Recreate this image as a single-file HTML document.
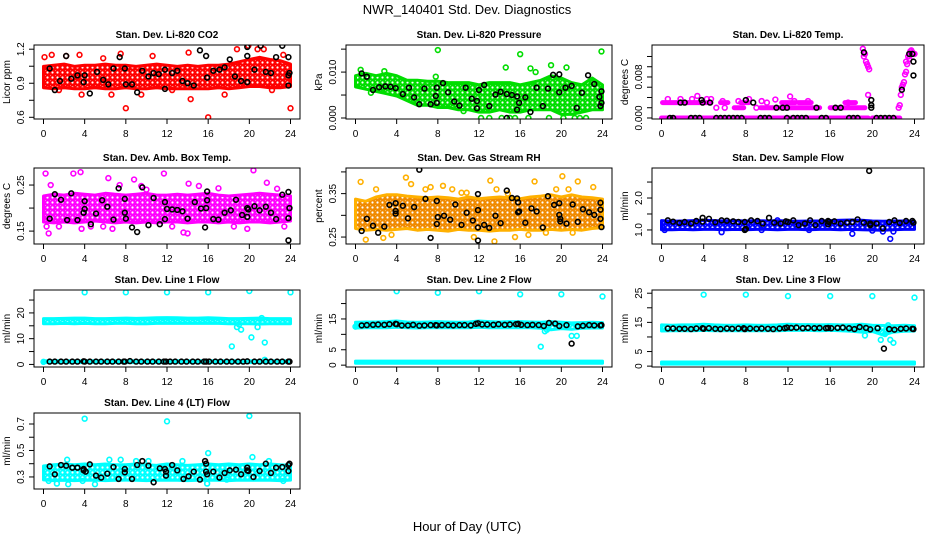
<!DOCTYPE html>
<html><head><meta charset="utf-8"><style>
html,body{margin:0;padding:0;background:#fff;}
svg{display:block;font-family:"Liberation Sans",sans-serif;}
</style></head><body>
<svg id="chart" width="936" height="540" viewBox="0 0 936 540" xmlns="http://www.w3.org/2000/svg">
<defs id="defs"></defs>
<rect x="0" y="0" width="936" height="540" fill="#fff"/>
<text x="467" y="14" text-anchor="middle" font-size="13">NWR_140401  Std. Dev. Diagnostics</text>
<text x="467" y="531" text-anchor="middle" font-size="13">Hour of Day (UTC)</text>
</svg>
<script>
// ---------- DATA ----------
const hours=[0,1,2,3,4,5,6,7,8,9,10,11,12,13,14,15,16,17,18,19,20,21,22,23,24];
const xTicks=[0,4,8,12,16,20,24];
const xTickLabels=['0','4','8','12','16','20','24'];

// P1 CO2
const co2BandLo=[0.87,0.86,0.87,0.86,0.86,0.87,0.86,0.86,0.87,0.86,0.86,0.87,0.86,0.86,0.86,0.86,0.86,0.87,0.86,0.87,0.88,0.88,0.87,0.87,0.88];
const co2BandHi=[1.04,1.05,1.06,1.04,1.05,1.05,1.06,1.05,1.05,1.04,1.05,1.06,1.05,1.04,1.05,1.04,1.05,1.05,1.06,1.08,1.10,1.12,1.10,1.09,1.06];
const co2RedX=[0.1,0.8,2.2,3.5,3.7,5.8,6.6,7.5,8.0,9.5,10.6,14.1,14.3,16.0,17.6,18.8,19.9,21.4,23.3,24.0,22.2,12.5,1.5,20.8];
const co2RedY=[1.13,1.15,1.14,1.15,0.80,1.12,0.80,1.16,0.68,0.80,1.14,1.17,0.76,0.60,0.80,1.20,1.23,1.20,1.15,0.68,0.84,0.84,0.84,1.20];
const co2BlkX=[0.6,1.1,1.6,2.2,2.7,3.3,3.9,4.0,4.5,5.2,5.8,6.3,6.8,7.4,7.9,8.0,8.6,9.1,9.6,10.2,10.7,11.2,11.8,11.8,12.5,13.0,13.5,14.0,14.6,15.2,15.8,15.9,16.5,17.1,17.6,18.1,18.6,19.2,19.8,19.8,19.8,20.5,21.1,21.6,22.1,22.6,23.2,23.8,23.8,23.8,23.9];
const co2BlkY=[1.03,0.84,0.92,1.14,0.94,0.97,0.91,0.97,0.81,1.00,0.93,0.89,1.03,1.13,1.03,0.89,0.89,0.82,1.01,0.96,0.99,0.98,1.02,0.85,0.99,1.01,0.92,0.90,0.88,1.19,1.14,0.95,1.01,1.02,1.04,1.11,0.96,0.92,1.22,1.14,0.91,1.02,1.23,1.00,0.99,1.13,1.23,1.13,0.97,0.88,0.99];

// P2 Pressure
const prsBandLo=[0.0070,0.0065,0.0060,0.0055,0.0050,0.0040,0.0030,0.0030,0.0025,0.0025,0.0020,0.0020,0.0015,0.0015,0.0020,0.0015,0.0015,0.0020,0.0020,0.0020,0.0010,0.0010,0.0015,0.0020,0.0020];
const prsBandHi=[0.0090,0.0095,0.0090,0.0095,0.0090,0.0080,0.0080,0.0078,0.0078,0.0075,0.0075,0.0075,0.0070,0.0075,0.0075,0.0075,0.0070,0.0075,0.0080,0.0090,0.0085,0.0075,0.0070,0.0085,0.0070];
const prsGrnX=[0.5,8.0,14.6,16.0,17.0,19.0,20.5,23.9,12.2,13.0,14.2,15.0,15.5,16.8,18.8,20.2,21.3,21.8,22.4,1.5,2.8,17.5,7.8,10.5];
const prsGrnY=[0.0105,0.0148,0.0110,0.0139,0.0108,0.0115,0.0110,0.0145,0,0,0,0,0,0,0,0,0,0,0,0.0055,0.0102,0.0100,0.0090,0.0015];
const prsBlkX=[0.6,1.1,1.7,2.3,2.9,3.4,3.9,4.6,5.2,5.7,6.2,6.7,7.3,7.8,7.9,7.9,8.5,9.0,9.6,10.1,10.7,11.3,11.8,11.8,12.0,12.5,13.0,13.6,14.1,14.7,14.7,15.2,15.7,15.7,15.9,16.5,17.0,17.6,18.2,18.7,19.2,19.8,19.8,20.4,21.0,21.5,22.0,22.6,23.2,23.7,23.8,23.9,23.9];
const prsBlkY=[0.0097,0.0090,0.0061,0.0067,0.0069,0.0068,0.0065,0.0052,0.0066,0.0045,0.0030,0.0064,0.0030,0.0048,0.0066,0.0033,0.0076,0.0056,0.0036,0.0027,0.0066,0.0042,0.0037,0.0021,0.0061,0.0072,0.0026,0.0051,0.0057,0,0.0052,0.0050,0.0047,0.0018,0.0033,0.0045,0.0013,0.0066,0.0026,0.0064,0.0094,0.0095,0.0056,0.0066,0.0070,0.0022,0.0055,0.0093,0.0074,0.0046,0.0026,0.0058,0.0033];

// P3 Li-820 Temp (runs = [start hour, end hour] at constant level)
const tmpRunLevels=[0,0,0.003,0.003,0.003,0.003,0.003,0.003,0.002,0.002,0.002];
const tmpRunStart=[0,20.0,0.1,5.6,7.5,11.4,13.0,17.4,6.9,9.4,16.0];
const tmpRunEnd=[19.6,22.6,4.7,6.3,8.3,12.7,14.2,18.4,7.8,15.0,19.3];
const tmpMagX=[0.6,1.8,2.9,3.4,4.3,4.7,5.8,7.3,8.3,9.5,10.8,12.2,12.6,13.9,17.7,19.1,19.2,19.3,19.4,19.5,19.6,19.7,19.6,22.5,22.6,22.7,22.8,22.9,23.0,23.1,23.2,23.3,23.4,23.5,23.6,23.7,23.8,23.9,24.0,23.2,23.5,5.2,6.0,9.0,10.0];
const tmpMagY=[0.0037,0.0037,0.0037,0.0043,0.0037,0.0037,0.0033,0.0033,0.0037,0.0033,0.0036,0.0042,0.0033,0.0033,0.0030,0.0135,0.0120,0.0125,0.0110,0.0105,0.0100,0.0095,0.0045,0.0020,0.0025,0.0045,0.0060,0.0065,0.0070,0.0085,0.0090,0.0105,0.0120,0.0125,0.0130,0.0132,0.0128,0.0125,0.0125,0.0110,0.0115,0.0020,0.0020,0.0020,0.0030];
const tmpBlkX=[0.8,1.1,2.8,3.2,3.6,5.2,5.6,6.0,6.4,6.8,7.2,7.6,9.4,9.8,10.2,11.9,12.5,12.9,13.3,13.7,15.2,15.6,17.8,18.2,18.6,20.4,20.8,21.2,21.6,22.0,1.8,2.2,3.8,3.9,4.6,8.0,8.7,10.9,11.5,11.9,14.7,16.5,17.0,19.2,19.9,19.9,19.9,22.8,23.5,23.8,23.9,23.9];
const tmpBlkY=[0,0,0,0,0,0,0,0,0,0,0,0,0,0,0,0,0,0,0,0,0,0,0,0,0,0,0,0,0,0,0.003,0.003,0.0035,0.003,0.003,0.0035,0.003,0.002,0.002,0.002,0.002,0.002,0.002,0.0128,0.0035,0.0025,0.002,0.0055,0.0125,0.0125,0.0110,0.0083];

// P4 Amb Box Temp
const boxBandLo=[0.172,0.170,0.172,0.170,0.172,0.174,0.172,0.170,0.172,0.170,0.172,0.170,0.172,0.172,0.170,0.172,0.172,0.170,0.172,0.170,0.172,0.172,0.170,0.172,0.174];
const boxBandHi=[0.224,0.228,0.226,0.230,0.228,0.226,0.230,0.228,0.226,0.228,0.230,0.226,0.226,0.228,0.226,0.228,0.230,0.226,0.224,0.226,0.228,0.230,0.228,0.226,0.224];
const boxMagX=[0.2,0.3,0.5,2.9,3.6,3.7,4.6,6.3,6.7,7.4,8.8,9.5,11.7,13.6,14.0,14.1,15.1,17.0,19.8,20.4,21.7,23.4,22.7,1.5,5.8,0.7,10.0,12.5,18.5];
const boxMagY=[0.275,0.160,0.145,0.275,0.278,0.155,0.160,0.265,0.155,0.250,0.262,0.248,0.275,0.147,0.145,0.253,0.248,0.243,0.155,0.282,0.255,0.160,0.242,0.160,0.160,0.250,0.240,0.160,0.160];
const boxBlkX=[0.6,1.1,1.7,2.3,2.7,3.3,3.9,4.0,4.0,4.6,5.1,5.7,6.2,6.8,7.3,7.9,7.9,8.0,8.6,9.1,9.6,10.2,10.7,11.3,11.8,11.8,12.0,12.5,13.0,13.5,14.0,14.7,15.3,15.7,15.8,15.9,15.9,16.5,17.0,17.6,18.2,18.7,19.3,19.8,19.8,19.9,20.5,21.0,21.6,22.1,22.6,23.2,23.8,23.8,23.9,23.8];
const boxBlkY=[0.177,0.230,0.218,0.174,0.232,0.174,0.190,0.198,0.215,0.165,0.188,0.217,0.203,0.175,0.243,0.190,0.220,0.177,0.158,0.148,0.245,0.163,0.222,0.165,0.213,0.176,0.198,0.197,0.196,0.193,0.177,0.213,0.199,0.158,0.200,0.217,0.236,0.176,0.175,0.190,0.195,0.218,0.185,0.200,0.181,0.197,0.204,0.195,0.203,0.190,0.176,0.229,0.235,0.178,0.200,0.130];

// P5 Gas Stream RH
const rhBandLo=[0.272,0.268,0.270,0.268,0.270,0.272,0.268,0.270,0.268,0.266,0.270,0.268,0.268,0.266,0.268,0.268,0.270,0.268,0.268,0.270,0.268,0.270,0.268,0.272,0.274];
const rhBandHi=[0.335,0.330,0.340,0.345,0.345,0.342,0.340,0.338,0.340,0.338,0.335,0.340,0.336,0.338,0.340,0.338,0.336,0.340,0.342,0.345,0.340,0.345,0.340,0.338,0.335];
const rhOrgX=[0.5,1.0,2.0,2.7,4.9,5.4,6.8,7.3,8.5,9.4,10.3,10.8,11.5,13.1,13.7,13.5,14.8,15.5,17.4,18.5,19.5,20.1,20.7,21.6,23.1,21.1,3.5,16.8];
const rhOrgY=[0.377,0.244,0.360,0.248,0.387,0.372,0.360,0.365,0.368,0.360,0.352,0.352,0.250,0.380,0.360,0.240,0.350,0.250,0.378,0.260,0.360,0.390,0.360,0.378,0.365,0.260,0.255,0.255];
const rhBlkX=[0.6,1.1,1.7,2.2,2.8,3.3,3.9,3.9,3.9,4.6,5.1,5.7,6.2,6.8,7.3,7.9,7.9,8.0,8.6,9.2,9.7,10.3,10.8,11.4,11.9,11.9,11.9,11.9,12.5,13.0,13.6,14.1,14.7,15.2,15.7,15.8,15.8,15.9,16.5,17.1,17.6,18.2,18.7,19.3,19.8,19.8,19.9,19.9,20.5,21.1,21.6,22.1,22.7,23.2,23.8,23.8,23.8,23.9];
const rhBlkY=[0.264,0.292,0.276,0.260,0.274,0.324,0.328,0.310,0.304,0.322,0.293,0.319,0.405,0.338,0.248,0.333,0.280,0.296,0.299,0.290,0.325,0.278,0.306,0.288,0.349,0.312,0.272,0.242,0.278,0.271,0.299,0.282,0.357,0.340,0.339,0.330,0.307,0.309,0.283,0.316,0.309,0.272,0.344,0.324,0.328,0.301,0.292,0.286,0.281,0.325,0.285,0.314,0.307,0.301,0.329,0.313,0.292,0.273];

// P6 Sample Flow
const sfBandLo=[1.04,1.04,1.05,1.04,1.05,1.05,1.04,1.05,1.04,1.05,1.05,1.04,1.05,1.05,1.04,1.05,1.05,1.04,1.05,1.04,1.03,1.02,1.04,1.05,1.05];
const sfBandHi=[1.26,1.24,1.25,1.26,1.27,1.26,1.25,1.26,1.25,1.26,1.25,1.26,1.25,1.24,1.25,1.25,1.26,1.27,1.28,1.27,1.25,1.24,1.25,1.25,1.24];
const sfBluX=[5.7,18.1,21.7,20.0,21.0,0.3,11.0,22.0,9.5,14.0];
const sfBluY=[0.93,0.88,0.72,0.98,0.95,1.00,1.30,0.95,1.00,1.00];
const sfBlkX=[0.6,1.1,1.7,2.2,2.8,3.3,3.9,3.9,4.5,5.1,5.7,6.2,6.8,7.3,7.9,7.9,8.0,8.5,9.1,9.6,10.2,10.7,11.3,11.8,12.0,12.5,13.0,13.6,14.1,14.6,15.2,15.8,15.8,15.9,16.4,17.0,17.6,18.1,18.6,19.2,19.7,19.8,19.8,20.4,21.0,21.6,22.1,22.6,23.2,23.8,23.9];
const sfBlkY=[1.30,1.26,1.22,1.25,1.20,1.28,1.38,1.26,1.35,1.24,1.30,1.29,1.27,1.25,1.25,1.00,1.03,1.30,1.28,1.20,1.38,1.23,1.20,1.27,1.25,1.30,1.15,1.20,1.30,1.15,1.28,1.28,1.18,1.25,1.27,1.20,1.23,1.25,1.33,1.23,2.85,1.20,1.15,1.20,1.05,1.25,1.30,1.22,1.28,1.28,1.23];

// P7 Line 1 Flow
const l1BandLo=[16.2,16.2,16.3,16.2,16.3,16.2,16.2,16.3,16.3,16.2,16.2,16.3,16.4,16.3,16.3,16.3,16.4,16.3,16.2,16.2,16.2,16.1,16.2,16.2,16.2];
const l1BandHi=[17.4,17.4,17.5,17.6,17.6,17.4,17.4,17.5,17.6,17.5,17.6,17.7,17.8,17.7,17.6,17.6,17.7,17.6,17.4,17.4,17.5,17.6,17.4,17.4,17.4];
const l1LowLo=[0.7,0.7,0.7,0.7,0.7,0.7,0.7,0.7,0.7,0.7,0.7,0.7,0.7,0.7,0.7,0.7,0.7,0.7,0.7,0.7,0.7,0.7,0.7,0.7,0.7];
const l1LowHi=[1.4,1.4,1.4,1.4,1.4,1.4,1.4,1.4,1.4,1.4,1.4,1.4,1.4,1.4,1.4,1.4,1.4,1.4,1.4,1.4,1.4,1.4,1.4,1.4,1.4];
const l1CyX=[4.0,8.0,12.0,16.0,20.0,24.0,18.3,18.8,19.2,20.2,20.8,21.2,21.5,21.5,0.0,19.0];
const l1CyY=[28.0,28.0,28.0,28.0,28.5,28.0,7.0,14.5,13.5,10.5,14.5,18.0,8.5,1.8,1.0,15.5];
const l1BlkX=[0.6,1.1,1.7,2.2,2.8,3.3,3.9,4.0,4.5,5.1,5.6,6.2,6.7,7.3,7.8,7.9,8.4,9.0,9.5,10.1,10.6,11.2,11.7,11.9,12.3,12.8,13.4,13.9,14.5,15.0,15.6,15.8,16.1,16.7,17.2,17.8,18.3,18.9,19.4,19.8,20.5,21.0,21.6,22.1,22.7,23.2,23.8,23.9];
const l1BlkY=[1.1,1.1,1.1,1.1,1.1,1.1,1.2,1.1,1.1,1.1,1.1,1.1,1.1,1.1,1.1,1.1,1.3,1.1,1.1,1.1,1.1,1.1,1.1,1.1,1.1,1.1,1.1,1.1,1.1,1.1,1.1,1.1,1.1,1.1,1.1,1.1,1.1,1.1,1.1,1.2,1.1,1.1,1.1,1.1,1.1,1.1,1.1,1.1];

// P8 Line 2 Flow
const l2BandLo=[12.4,12.5,12.5,12.5,12.6,12.5,12.4,12.5,12.5,12.5,12.5,12.5,12.6,12.5,12.5,12.5,12.5,12.5,12.3,11.8,12.2,12.0,12.3,12.4,12.4];
const l2BandHi=[13.6,13.7,13.7,13.8,14.0,13.7,13.6,13.7,13.8,13.7,13.6,13.7,14.0,13.8,13.7,13.8,13.8,13.7,13.6,13.8,13.6,13.4,13.5,13.6,13.5];
const l2LowLo=[0.6,0.6,0.6,0.6,0.6,0.6,0.6,0.6,0.6,0.6,0.6,0.6,0.6,0.6,0.6,0.6,0.6,0.6,0.6,0.6,0.6,0.6,0.6,0.6,0.6];
const l2LowHi=[1.3,1.3,1.3,1.3,1.3,1.3,1.3,1.3,1.3,1.3,1.3,1.3,1.3,1.3,1.3,1.3,1.3,1.3,1.3,1.3,1.3,1.3,1.3,1.3,1.3];
const l2CyX=[4.0,8.0,12.0,16.0,20.0,24.0,18.0,18.6,21.0,21.5,0.0,18.4];
const l2CyY=[24.0,23.5,24.0,23.0,23.0,22.3,6.0,11.5,9.5,9.5,12.5,11.0];
const l2BlkX=[0.6,1.1,1.7,2.2,2.8,3.3,3.9,4.0,4.5,5.1,5.6,6.2,6.7,7.3,7.8,7.9,8.4,9.0,9.5,10.1,10.6,11.2,11.7,11.9,12.3,12.8,13.4,13.9,14.5,15.0,15.6,15.8,16.1,16.7,17.2,17.8,18.3,18.8,19.4,19.8,20.5,21.0,21.6,22.1,22.7,23.2,23.8,23.9];
const l2BlkY=[12.9,13.0,13.1,13.2,13.1,13.3,13.4,13.3,12.9,12.9,13.1,12.8,12.9,13.0,13.0,12.9,13.0,13.0,12.9,13.0,13.0,12.9,13.4,13.6,13.2,13.2,13.1,13.3,13.1,13.2,13.3,13.4,13.1,13.0,13.1,13.0,12.7,13.7,13.5,12.7,13.0,7.0,12.6,12.8,13.0,12.9,12.9,13.0];

// P9 Line 3 Flow
const l3BandLo=[12.4,12.5,12.5,12.5,12.6,12.5,12.5,12.5,12.5,12.5,12.5,12.5,12.6,12.6,12.6,12.5,12.6,12.5,12.3,12.0,12.2,11.0,12.0,12.3,12.4];
const l3BandHi=[13.8,13.7,13.8,13.8,14.0,13.8,13.7,13.7,13.8,13.7,13.7,13.8,14.0,13.9,13.9,13.8,13.9,13.8,13.8,14.0,13.7,13.6,13.5,13.7,13.5];
const l3LowLo=[0.7,0.7,0.7,0.7,0.7,0.7,0.7,0.7,0.7,0.7,0.7,0.7,0.7,0.7,0.7,0.7,0.7,0.7,0.7,0.7,0.7,0.7,0.7,0.7,0.7];
const l3LowHi=[1.4,1.4,1.4,1.4,1.4,1.4,1.4,1.4,1.4,1.4,1.4,1.4,1.4,1.4,1.4,1.4,1.4,1.4,1.4,1.4,1.4,1.4,1.4,1.4,1.4];
const l3CyX=[4.0,8.0,12.0,16.0,20.0,24.0,19.3,20.8,21.2,21.5,21.7,22.0,21.3];
const l3CyY=[24.5,24.5,24.0,24.0,24.0,23.5,10.5,9.0,11.0,14.0,9.0,8.0,12.0];
const l3BlkX=[0.6,1.1,1.7,2.2,2.8,3.3,3.9,4.0,4.5,5.1,5.6,6.2,6.7,7.3,7.8,7.9,8.4,9.0,9.5,10.1,10.6,11.2,11.7,11.9,12.3,12.8,13.4,13.9,14.5,15.0,15.6,15.8,16.1,16.7,17.2,17.8,18.3,18.8,19.4,19.8,20.5,21.1,21.6,22.1,22.7,23.2,23.8,23.9];
const l3BlkY=[12.9,12.9,12.8,12.8,12.7,12.9,13.0,12.8,13.0,12.8,12.7,12.9,12.8,12.9,13.0,12.7,12.9,12.8,12.9,12.8,12.7,12.9,13.0,13.2,13.1,13.2,13.0,13.1,13.0,13.1,13.0,13.1,13.0,13.1,13.2,13.0,12.7,13.4,13.1,12.6,13.0,6.0,12.7,12.5,12.8,12.9,12.8,12.7];

// P10 Line 4 (LT) Flow
const l4BandLo=[0.285,0.280,0.282,0.280,0.282,0.284,0.280,0.282,0.284,0.282,0.280,0.282,0.284,0.282,0.280,0.282,0.284,0.282,0.280,0.284,0.282,0.284,0.282,0.280,0.284];
const l4BandHi=[0.375,0.385,0.390,0.385,0.390,0.385,0.390,0.385,0.385,0.390,0.385,0.380,0.390,0.385,0.380,0.385,0.390,0.385,0.390,0.385,0.390,0.385,0.390,0.385,0.380];
const l4CyX=[4.0,12.0,20.0,20.3,16.0,1.3,2.4,5.0,3.8,0.5,6.4,7.5,2.3,10.2,15.9,23.3,17.8,21.9,9.0,13.5];
const l4CyY=[0.74,0.72,0.76,0.45,0.48,0.25,0.245,0.245,0.27,0.27,0.43,0.43,0.43,0.42,0.25,0.27,0.28,0.42,0.42,0.42];
const l4BlkX=[0.6,1.1,1.7,2.2,2.8,3.3,3.9,3.9,4.1,4.5,5.1,5.6,6.2,6.8,7.3,7.9,7.9,8.6,9.1,9.6,10.2,10.7,11.3,11.8,11.9,11.9,12.5,13.0,13.6,14.1,14.6,15.2,15.7,15.8,15.8,15.9,16.5,17.1,17.6,18.1,18.7,19.2,19.8,19.8,19.9,20.4,21.0,21.6,22.1,22.6,23.2,23.8,23.8,23.9];
const l4BlkY=[0.38,0.32,0.39,0.385,0.37,0.37,0.36,0.35,0.34,0.395,0.31,0.295,0.325,0.375,0.285,0.36,0.335,0.285,0.39,0.42,0.385,0.26,0.365,0.36,0.34,0.31,0.39,0.35,0.285,0.305,0.34,0.28,0.42,0.40,0.34,0.32,0.34,0.295,0.33,0.35,0.355,0.32,0.37,0.35,0.345,0.30,0.345,0.40,0.33,0.37,0.375,0.39,0.345,0.40];

// ---------- RENDER ----------
const NS='http://www.w3.org/2000/svg';
const svg=document.getElementById('chart');
const defs=document.getElementById('defs');
const colL=[34,346,652], colR=[300,612,924];
const rowT=[45,168,290,413], rowB=[119,244,367,489];
function mk(tag,attrs,parent){const e=document.createElementNS(NS,tag);for(const k in attrs)e.setAttribute(k,attrs[k]);(parent||svg).appendChild(e);return e;}

const patCache={};
function pattern(color,alt){
  const key=color+(alt||'');
  if(patCache[key])return patCache[key];
  const id='pat'+Object.keys(patCache).length;
  const p=mk('pattern',{id:id,width:5,height:5,patternUnits:'userSpaceOnUse'},defs);
  mk('rect',{x:0,y:0,width:5,height:5,fill:alt||color},p);
  mk('circle',{cx:2.5,cy:2.5,r:1.1,fill:'#fff'},p);
  mk('circle',{cx:0,cy:0,r:0.7,fill:'#fff'},p);
  patCache[key]='url(#'+id+')';
  return patCache[key];
}

const panels=[
 {id:'co2',title:'Stan. Dev. Li-820 CO2',ylab:'Licor ppm',c:0,r:0,dom:[0.585,1.237],ticks:[0.6,0.75,0.9,1.05,1.2],tl:['0.6','','0.9','','1.2'],color:'#ff0000',bands:[[co2BandLo,co2BandHi]],pts:[[co2RedX,co2RedY]],blk:[co2BlkX,co2BlkY]},
 {id:'pressure',title:'Stan. Dev. Li-820 Pressure',ylab:'kPa',c:1,r:0,dom:[-0.00022,0.0159],ticks:[0,0.005,0.01,0.015],tl:['0.000','','0.010',''],color:'#00dd00',bands:[[prsBandLo,prsBandHi]],pts:[[prsGrnX,prsGrnY]],blk:[prsBlkX,prsBlkY]},
 {id:'li820-temp',title:'Stan. Dev. Li-820 Temp.',ylab:'degrees C',c:2,r:0,dom:[-0.0002,0.01424],ticks:[0,0.002,0.004,0.006,0.008,0.010,0.012],tl:['0.000','','','','0.008','',''],color:'#ff00ff',bands:[],runs:true,pts:[[tmpMagX,tmpMagY]],blk:[tmpBlkX,tmpBlkY]},
 {id:'box-temp',title:'Stan. Dev. Amb. Box Temp.',ylab:'degrees C',c:0,r:1,dom:[0.122,0.287],ticks:[0.15,0.2,0.25],tl:['0.15','','0.25'],color:'#ff00ff',bands:[[boxBandLo,boxBandHi]],pts:[[boxMagX,boxMagY]],blk:[boxBlkX,boxBlkY]},
 {id:'gas-rh',title:'Stan. Dev. Gas Stream RH',ylab:'percent',c:1,r:1,dom:[0.234,0.409],ticks:[0.25,0.3,0.35,0.4],tl:['0.25','','0.35',''],color:'#f0a000',ptColor:'#ffb000',bands:[[rhBandLo,rhBandHi]],pts:[[rhOrgX,rhOrgY]],blk:[rhBlkX,rhBlkY]},
 {id:'sample-flow',title:'Stan. Dev. Sample Flow',ylab:'ml/min',c:2,r:1,dom:[0.56,2.94],ticks:[1,1.5,2,2.5],tl:['1.0','','2.0',''],color:'#0000ff',bands:[[sfBandLo,sfBandHi]],pts:[[sfBluX,sfBluY]],blk:[sfBlkX,sfBlkY]},
 {id:'line1-flow',title:'Stan. Dev. Line 1 Flow',ylab:'ml/min',c:0,r:2,dom:[-1,28.9],ticks:[0,5,10,15,20,25],tl:['0','','10','','20',''],color:'#00ffff',bands:[[l1BandLo,l1BandHi],[l1LowLo,l1LowHi]],pts:[[l1CyX,l1CyY]],blk:[l1BlkX,l1BlkY]},
 {id:'line2-flow',title:'Stan. Dev. Line 2 Flow',ylab:'ml/min',c:1,r:2,dom:[-0.6,24.4],ticks:[0,5,10,15,20],tl:['0','5','','15',''],color:'#00ffff',bands:[[l2BandLo,l2BandHi],[l2LowLo,l2LowHi]],pts:[[l2CyX,l2CyY]],blk:[l2BlkX,l2BlkY]},
 {id:'line3-flow',title:'Stan. Dev. Line 3 Flow',ylab:'ml/min',c:2,r:2,dom:[-0.3,26.1],ticks:[0,5,10,15,20,25],tl:['0','5','','15','','25'],color:'#00ffff',bands:[[l3BandLo,l3BandHi],[l3LowLo,l3LowHi]],pts:[[l3CyX,l3CyY]],blk:[l3BlkX,l3BlkY]},
 {id:'line4-flow',title:'Stan. Dev. Line 4 (LT) Flow',ylab:'ml/min',c:0,r:3,dom:[0.209,0.783],ticks:[0.3,0.4,0.5,0.6,0.7],tl:['0.3','','0.5','','0.7'],color:'#00ffff',bands:[[l4BandLo,l4BandHi]],pts:[[l4CyX,l4CyY]],blk:[l4BlkX,l4BlkY]}
];

panels.forEach(p=>{
  const L=colL[p.c],R=colR[p.c],T=rowT[p.r],B=rowB[p.r];
  const xs=v=>L+9.5+(v/24)*(R-L-19);
  const ys=v=>B-(v-p.dom[0])/(p.dom[1]-p.dom[0])*(B-T);
  const g=mk('g',{});
  
  
  const cp=mk('clipPath',{id:'clip-'+p.id},g);
  mk('rect',{x:L,y:T,width:R-L,height:B-T},cp);
  const plot=mk('g',{'clip-path':'url(#clip-'+p.id+')'},g);
  const fillPat=pattern(p.color,p.id==='gas-rh'?'#f08a00':null);
  p.bands.forEach((b,bi)=>{
    const lo=b[0],hi=b[1];
    const pad=bi===0?1:0;
    let d='';
    hours.forEach((h,i)=>{d+=(i?'L':'M')+xs(h).toFixed(1)+','+(ys(hi[i])-pad).toFixed(1);});
    for(let i=hours.length-1;i>=0;i--){d+='L'+xs(hours[i]).toFixed(1)+','+(ys(lo[i])+pad).toFixed(1);}
    const band=mk('path',{d:d+'Z',fill:fillPat,stroke:p.ptColor||p.color,'stroke-width':3,'stroke-linejoin':'round'},plot);
    
    
  });
  if(p.runs){
    tmpRunLevels.forEach((lv,i)=>{
      const ln=mk('line',{x1:xs(tmpRunStart[i]),x2:xs(tmpRunEnd[i]),y1:ys(lv),y2:ys(lv),stroke:p.color,'stroke-width':5,'stroke-linecap':'round'},plot);
      
      
    });
  }
  p.pts.forEach(s=>{
    s[0].forEach((x,i)=>{
      const c=mk('circle',{cx:xs(x),cy:ys(s[1][i]),r:2.4,fill:'none',stroke:p.ptColor||p.color,'stroke-width':1.6},plot);
      
      
    });
  });
  p.blk[0].forEach((x,i)=>{
    const c=mk('circle',{cx:xs(x),cy:ys(p.blk[1][i]),r:2.4,fill:'none',stroke:'#000','stroke-width':1.6},plot);
    
    
  });
  const bx=mk('rect',{x:L,y:T,width:R-L,height:B-T,fill:'none',stroke:'#000','stroke-width':1},g);
  
  
  xTicks.forEach((t,i)=>{
    const X=xs(t);
    mk('line',{x1:X,x2:X,y1:B,y2:B+5,stroke:'#000','stroke-width':1},g);
    const tx=mk('text',{x:X,y:B+18,'text-anchor':'middle','font-size':10},g);
    tx.textContent=xTickLabels[i];
    
    
  });
  p.ticks.forEach((t,i)=>{
    const Y=ys(t);
    mk('line',{x1:L-5,x2:L,y1:Y,y2:Y,stroke:'#000','stroke-width':1},g);
    if(p.tl[i]){
      const tx=mk('text',{x:L-10,y:Y,'text-anchor':'middle','font-size':10,transform:'rotate(-90 '+(L-10)+' '+Y+')'},g);
      tx.textContent=p.tl[i];
      
      
    }
  });
  const yc=(T+B)/2;
  const yl=mk('text',{x:L-24,y:yc,'text-anchor':'middle','font-size':10,transform:'rotate(-90 '+(L-24)+' '+yc+')'},g);
  yl.textContent=p.ylab;
  
  
  const tt=mk('text',{x:(L+R)/2,y:T-7,'text-anchor':'middle','font-size':10,'font-weight':'bold'},g);
  tt.textContent=p.title;
  
  
});
</script>
</body></html>
